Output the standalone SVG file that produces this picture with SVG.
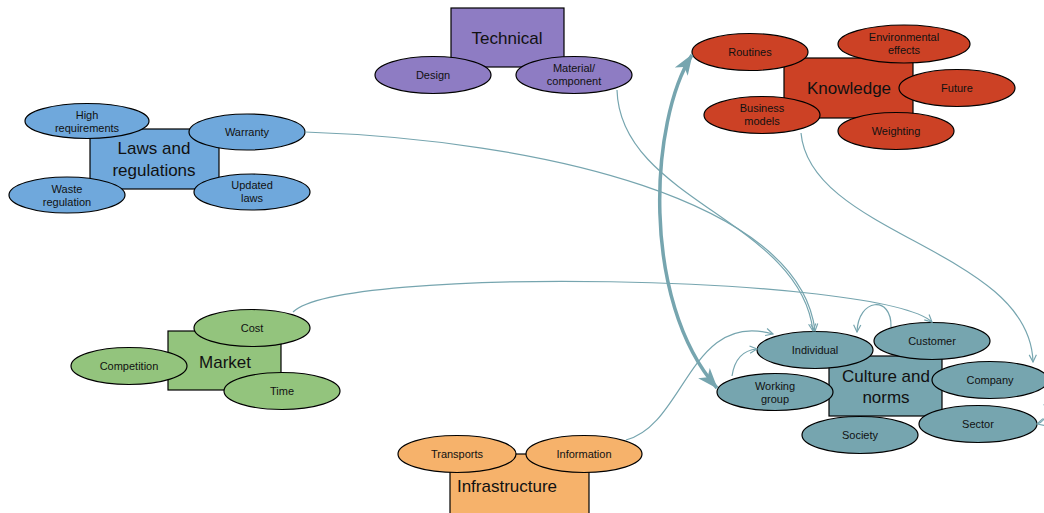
<svg xmlns="http://www.w3.org/2000/svg" width="1044" height="513" viewBox="0 0 1044 513">
  <style>
    .box { stroke: #000; stroke-width: 1.2; }
    .ell { stroke: #000; stroke-width: 1.2; }
    .title { font-family: "Liberation Sans", Arial, sans-serif; font-size: 17px; fill: #111; text-anchor: middle; }
    .lbl { font-family: "Liberation Sans", Arial, sans-serif; font-size: 11px; fill: #111; text-anchor: middle; }
    .purple { fill: #8e7cc3; }
    .blue { fill: #6fa8dc; }
    .red { fill: #cc4125; }
    .green { fill: #93c47d; }
    .orange { fill: #f6b26b; }
    .teal { fill: #76a5af; }
    .link { fill: none; stroke: #76a5af; stroke-width: 1.2; marker-end: url(#arrow); }
    .thick { fill: none; stroke: #76a5af; stroke-width: 3.5; marker-start: url(#bigStart); marker-end: url(#bigEnd); }
  </style>
  <defs>
    <marker id="arrow" viewBox="0 0 10 10" refX="9" refY="5" markerWidth="9" markerHeight="9" markerUnits="userSpaceOnUse" orient="auto">
      <path d="M1,1 L9,5 L1,9" fill="none" stroke="#76a5af" stroke-width="1.3"/>
    </marker>
    <marker id="bigEnd" viewBox="0 0 20 20" refX="18" refY="10" markerWidth="22" markerHeight="22" markerUnits="userSpaceOnUse" orient="auto">
      <path d="M0,3 L19,10 L0,17 L5,10 Z" fill="#76a5af"/>
    </marker>
    <marker id="bigStart" viewBox="0 0 20 20" refX="2" refY="10" markerWidth="22" markerHeight="22" markerUnits="userSpaceOnUse" orient="auto">
      <path d="M20,3 L1,10 L20,17 L15,10 Z" fill="#76a5af"/>
    </marker>
  </defs>

  <rect width="1044" height="513" fill="#fff"/>

  <!-- Technical -->
  <g id="technical">
    <rect class="box purple" x="451" y="8" width="113" height="59"/>
    <text class="title" x="507" y="44">Technical</text>
    <ellipse class="ell purple" cx="433" cy="75" rx="58" ry="18.5"/>
    <text class="lbl" x="433" y="79">Design</text>
    <ellipse class="ell purple" cx="574" cy="75" rx="58" ry="18.5"/>
    <text class="lbl" x="574" y="72">Material/</text>
    <text class="lbl" x="574" y="85">component</text>
  </g>

  <!-- Laws and regulations -->
  <g id="laws">
    <rect class="box blue" x="90" y="129" width="129" height="60"/>
    <text class="title" x="154" y="154">Laws and</text>
    <text class="title" x="154" y="176">regulations</text>
    <ellipse class="ell blue" cx="87" cy="121" rx="62" ry="17.5"/>
    <text class="lbl" x="87" y="119">High</text>
    <text class="lbl" x="87" y="132">requirements</text>
    <ellipse class="ell blue" cx="247" cy="132" rx="58" ry="18"/>
    <text class="lbl" x="247" y="136">Warranty</text>
    <ellipse class="ell blue" cx="67" cy="195" rx="58" ry="18"/>
    <text class="lbl" x="67" y="193">Waste</text>
    <text class="lbl" x="67" y="206">regulation</text>
    <ellipse class="ell blue" cx="252" cy="192" rx="58" ry="18"/>
    <text class="lbl" x="252" y="189">Updated</text>
    <text class="lbl" x="252" y="202">laws</text>
  </g>

  <!-- Knowledge -->
  <g id="knowledge">
    <rect class="box red" x="784" y="58" width="129" height="60"/>
    <text class="title" x="849" y="94">Knowledge</text>
    <ellipse class="ell red" cx="750" cy="52" rx="58" ry="18.5"/>
    <text class="lbl" x="750" y="56">Routines</text>
    <ellipse class="ell red" cx="904" cy="44" rx="66" ry="19"/>
    <text class="lbl" x="904" y="41">Environmental</text>
    <text class="lbl" x="904" y="54">effects</text>
    <ellipse class="ell red" cx="957" cy="88" rx="58" ry="18.5"/>
    <text class="lbl" x="957" y="92">Future</text>
    <ellipse class="ell red" cx="762" cy="115" rx="58" ry="18.5"/>
    <text class="lbl" x="762" y="112">Business</text>
    <text class="lbl" x="762" y="125">models</text>
    <ellipse class="ell red" cx="896" cy="131" rx="58" ry="18.5"/>
    <text class="lbl" x="896" y="135">Weighting</text>
  </g>

  <!-- Market -->
  <g id="market">
    <rect class="box green" x="168" y="331" width="113" height="59"/>
    <text class="title" x="225" y="368">Market</text>
    <ellipse class="ell green" cx="252" cy="328" rx="58" ry="18.5"/>
    <text class="lbl" x="252" y="332">Cost</text>
    <ellipse class="ell green" cx="129" cy="366" rx="58" ry="18.5"/>
    <text class="lbl" x="129" y="370">Competition</text>
    <ellipse class="ell green" cx="282" cy="391" rx="58" ry="18.5"/>
    <text class="lbl" x="282" y="395">Time</text>
  </g>

  <!-- Infrastructure -->
  <g id="infrastructure">
    <rect class="box orange" x="450" y="454" width="139" height="70"/>
    <text class="title" x="507" y="492">Infrastructure</text>
    <ellipse class="ell orange" cx="457" cy="454" rx="59" ry="18.5"/>
    <text class="lbl" x="457" y="458">Transports</text>
    <ellipse class="ell orange" cx="584" cy="454" rx="58" ry="18.5"/>
    <text class="lbl" x="584" y="458">Information</text>
  </g>

  <!-- Culture and norms -->
  <g id="culture">
    <rect class="box teal" x="829" y="356" width="113" height="60"/>
    <text class="title" x="886" y="382">Culture and</text>
    <text class="title" x="886" y="403">norms</text>
    <ellipse class="ell teal" cx="815" cy="350" rx="58" ry="18.5"/>
    <text class="lbl" x="815" y="354">Individual</text>
    <ellipse class="ell teal" cx="932" cy="341" rx="58" ry="18.5"/>
    <text class="lbl" x="932" y="345">Customer</text>
    <ellipse class="ell teal" cx="775" cy="392" rx="58" ry="18.5"/>
    <text class="lbl" x="775" y="390">Working</text>
    <text class="lbl" x="775" y="403">group</text>
    <ellipse class="ell teal" cx="990" cy="380" rx="58" ry="18.5"/>
    <text class="lbl" x="990" y="384">Company</text>
    <ellipse class="ell teal" cx="978" cy="424" rx="59" ry="18.5"/>
    <text class="lbl" x="978" y="428">Sector</text>
    <ellipse class="ell teal" cx="860" cy="435" rx="58" ry="18.5"/>
    <text class="lbl" x="860" y="439">Society</text>
  </g>

  <!-- Connectors -->
  <g id="connectors">
    <path class="link" d="M305,132 C540,140 800,200 815,331"/>
    <path class="link" d="M617,90 C620,200 800,220 813,331"/>
    <path class="link" d="M293,312 C340,265 880,275 932,322"/>
    <path class="link" d="M891,327 C892,295 858,298 857,332"/>
    <path class="link" d="M626,440 C685,425 690,310 773,334"/>
    <path class="link" d="M732,376 C735,356 745,350 757,349"/>
    <path class="link" d="M801,133 C810,235 1030,250 1033,362"/>
    <path class="link" d="M1044,404 C1048,416 1044,422 1037,424"/>
    <path class="thick" d="M692,55 C650,120 640,300 717,388"/>
  </g>
</svg>
